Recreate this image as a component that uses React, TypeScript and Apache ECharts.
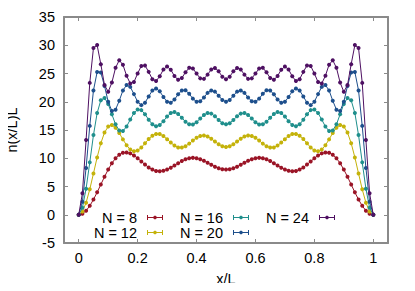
import React, { useEffect, useRef } from "react";
import * as echarts from "echarts";

// n(x/L)L profiles, sampled at x/L = 0, 1/80, ..., 1
const N8 = [0, 0.18, 0.72, 1.58, 2.69, 3.97, 5.35, 6.72, 8.0, 9.11, 10.0, 10.62, 10.96, 11.03, 10.86, 10.5, 10.0, 9.44, 8.88, 8.38, 8.0, 7.76, 7.69, 7.77, 8.0, 8.33, 8.73, 9.13, 9.51, 9.81, 10.0, 10.07, 10.0, 9.82, 9.54, 9.2, 8.84, 8.51, 8.24, 8.06, 8.0, 8.06, 8.24, 8.51, 8.84, 9.2, 9.54, 9.82, 10.0, 10.07, 10.0, 9.81, 9.51, 9.13, 8.73, 8.33, 8.0, 7.77, 7.69, 7.76, 8.0, 8.38, 8.88, 9.44, 10.0, 10.5, 10.86, 11.03, 10.96, 10.62, 10.0, 9.11, 8.0, 6.72, 5.35, 3.97, 2.69, 1.58, 0.72, 0.18, 0];
const N12 = [0, 0.55, 2.13, 4.5, 7.3, 10.15, 12.66, 14.54, 15.62, 15.87, 15.41, 14.48, 13.34, 12.29, 11.54, 11.23, 11.38, 11.9, 12.64, 13.4, 14.0, 14.31, 14.28, 13.94, 13.38, 12.77, 12.24, 11.92, 11.89, 12.14, 12.59, 13.13, 13.62, 13.94, 14.03, 13.85, 13.46, 12.96, 12.48, 12.13, 12.0, 12.13, 12.48, 12.96, 13.46, 13.85, 14.03, 13.94, 13.62, 13.13, 12.59, 12.14, 11.89, 11.92, 12.24, 12.77, 13.38, 13.94, 14.28, 14.31, 14.0, 13.4, 12.64, 11.9, 11.38, 11.23, 11.54, 12.29, 13.34, 14.48, 15.41, 15.87, 15.62, 14.54, 12.66, 10.15, 7.3, 4.5, 2.13, 0.55, 0];
const N16 = [0, 1.23, 4.61, 9.27, 14.1, 18.0, 20.26, 20.68, 19.62, 17.78, 16.0, 14.92, 14.82, 15.61, 16.85, 18.0, 18.62, 18.52, 17.8, 16.83, 16.0, 15.65, 15.88, 16.56, 17.38, 18.0, 18.17, 17.84, 17.18, 16.46, 16.0, 15.97, 16.38, 17.04, 17.67, 18.0, 17.9, 17.42, 16.77, 16.21, 16.0, 16.21, 16.77, 17.42, 17.9, 18.0, 17.67, 17.04, 16.38, 15.97, 16.0, 16.46, 17.18, 17.84, 18.17, 18.0, 17.38, 16.56, 15.88, 15.65, 16.0, 16.83, 17.8, 18.52, 18.62, 18.0, 16.85, 15.61, 14.82, 14.92, 16.0, 17.78, 19.62, 20.68, 20.26, 18.0, 14.1, 9.27, 4.61, 1.23, 0];
const N20 = [0, 2.3, 8.29, 15.73, 22.0, 25.26, 25.17, 22.8, 20.0, 18.38, 18.59, 20.17, 22.0, 22.97, 22.63, 21.35, 20.0, 19.4, 19.83, 20.94, 22.0, 22.36, 21.85, 20.85, 20.0, 19.82, 20.39, 21.31, 22.0, 22.03, 21.41, 20.55, 20.0, 20.09, 20.76, 21.57, 22.0, 21.79, 21.08, 20.32, 20.0, 20.32, 21.08, 21.79, 22.0, 21.57, 20.76, 20.09, 20.0, 20.55, 21.41, 22.03, 22.0, 21.31, 20.39, 19.82, 20.0, 20.85, 21.85, 22.36, 22.0, 20.94, 19.83, 19.4, 20.0, 21.35, 22.63, 22.97, 22.0, 20.17, 18.59, 18.38, 20.0, 22.8, 25.17, 25.26, 22.0, 15.73, 8.29, 2.3, 0];
const N24 = [0, 3.82, 13.22, 23.34, 29.52, 30.03, 26.64, 22.95, 21.76, 23.39, 26.0, 27.34, 26.56, 24.6, 23.23, 23.5, 25.0, 26.34, 26.42, 25.29, 24.0, 23.66, 24.5, 25.71, 26.24, 25.67, 24.55, 23.88, 24.21, 25.21, 26.0, 25.89, 25.0, 24.14, 24.05, 24.8, 25.72, 25.99, 25.38, 24.44, 24.0, 24.44, 25.38, 25.99, 25.72, 24.8, 24.05, 24.14, 25.0, 25.89, 26.0, 25.21, 24.21, 23.88, 24.55, 25.67, 26.24, 25.71, 24.5, 23.66, 24.0, 25.29, 26.42, 26.34, 25.0, 23.5, 23.23, 24.6, 26.56, 27.34, 26.0, 23.39, 21.76, 22.95, 26.64, 30.03, 29.52, 23.34, 13.22, 3.82, 0];

const SERIES_NAMES = ["N = 8", "N = 12", "N = 16", "N = 20", "N = 24"];
const SERIES_VALUES = [N8, N12, N16, N20, N24];
const COLORS = ["#9a1426", "#c4b20a", "#1f8f8c", "#1d4f8c", "#4e1062"];
const X_TICKS = [0, 0.2, 0.4, 0.6, 0.8, 1];

const FONT = "Liberation Sans, Arial, sans-serif";
const AXIS_COLOR = "#8a8a8a";
const ICON =
  "path://M0,5H32V7H0Z M0,1H2V11H0Z M30,1H32V11H30Z M14.6,2.6L17.4,2.6L19.4,4.6L19.4,7.4L17.4,9.4L14.6,9.4L12.6,7.4L12.6,4.6Z";

export default function App() {
  const ref = useRef<HTMLDivElement>(null);
  useEffect(() => {
    if (!ref.current) return;
    const chart = echarts.init(ref.current, null, { renderer: "svg" });

    const xCommon = {
      type: "value",
      min: -0.05,
      max: 1.05,
      splitLine: { show: false },
      axisLine: { show: true, onZero: false, lineStyle: { color: AXIS_COLOR, width: 2 } },
      axisTick: { show: true, inside: true, length: 4, customValues: X_TICKS, lineStyle: { color: AXIS_COLOR, width: 1 } },
    };
    const yCommon = {
      type: "value",
      min: -5,
      max: 35,
      interval: 5,
      splitLine: { show: false },
      axisLine: { show: true, onZero: false, lineStyle: { color: AXIS_COLOR, width: 2 } },
      axisTick: { show: true, inside: true, length: 4, lineStyle: { color: AXIS_COLOR, width: 1 } },
    };

    const legendPos = [
      { right: 252, top: 210 },
      { right: 252, top: 225 },
      { right: 166, top: 210 },
      { right: 166, top: 225 },
      { right: 80, top: 210 },
    ];

    chart.setOption({
      animation: false,
      backgroundColor: "#ffffff",
      grid: { left: 64, right: 27, top: 17, bottom: 48, containLabel: false, outerBoundsMode: "none" },
      xAxis: [
        {
          ...xCommon,
          position: "bottom",
          name: "x/L",
          nameLocation: "middle",
          nameGap: 28,
          nameTextStyle: { color: "#000", fontSize: 14.5, fontFamily: FONT },
          axisLabel: {
            show: true,
            customValues: X_TICKS,
            color: "#000",
            fontSize: 14.5,
            fontFamily: FONT,
            margin: 7,
            formatter: (v: number) => String(Math.round(v * 10) / 10),
          },
        },
        { ...xCommon, position: "top", axisLabel: { show: false } },
      ],
      yAxis: [
        {
          ...yCommon,
          position: "left",
          name: "n(x/L)L",
          nameLocation: "middle",
          nameGap: 45,
          nameTextStyle: { color: "#000", fontSize: 14.5, fontFamily: FONT },
          axisLabel: { show: true, color: "#000", fontSize: 14.5, fontFamily: FONT, margin: 9 },
        },
        { ...yCommon, position: "right", axisLabel: { show: false } },
      ],
      legend: SERIES_NAMES.map((name, i) => ({
        data: [name],
        ...legendPos[i],
        orient: "horizontal",
        align: "right",
        padding: 0,
        itemWidth: 16,
        itemHeight: 6,
        icon: ICON,
        itemStyle: { borderWidth: 0 },
        selectedMode: false,
        textStyle: { color: "#000", fontSize: 14.5, lineHeight: 14, fontFamily: FONT, padding: [0, 5, 0, 0] },
      })),
      series: SERIES_VALUES.map((vals, i) => ({
        name: SERIES_NAMES[i],
        type: "line",
        data: vals.map((y, j) => [j / (vals.length - 1), y]),
        symbol: "circle",
        symbolSize: 4,
        showSymbol: true,
        color: COLORS[i],
        lineStyle: { color: COLORS[i], width: 1 },
        itemStyle: { color: COLORS[i], borderWidth: 0 },
        z: 2 + i,
      })),
    });
    return () => chart.dispose();
  }, []);
  return <div ref={ref} style={{ width: 415, height: 291, margin: -8 }} />;
}
